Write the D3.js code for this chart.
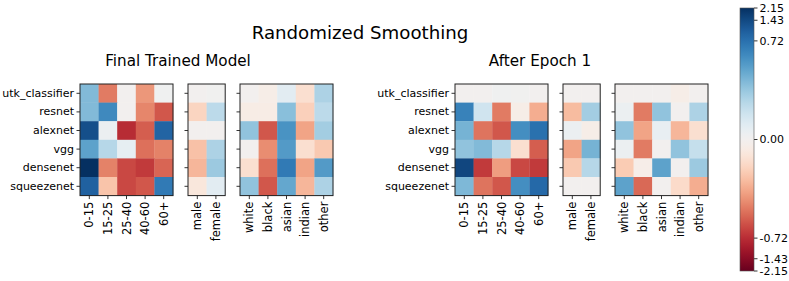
<!DOCTYPE html>
<html>
<head>
<meta charset="utf-8">
<script src="https://cdn.jsdelivr.net/npm/d3@7"></script>
<style>
  body { margin: 0; background: #fff; }
  svg { font-family: "DejaVu Sans", sans-serif; }
</style>
</head>
<body>
<svg id="chart" width="789" height="281"></svg>
<script>
// models on the y axis, groups along x
const models = ['utk_classifier', 'resnet', 'alexnet', 'vgg', 'densenet', 'squeezenet'];
const ageGroups = ['0-15', '15-25', '25-40', '40-60', '60+'];
const genders = ['male', 'female'];
const races = ['white', 'black', 'asian', 'indian', 'other'];
const cbTicks = [-2.15, -1.43, -0.72, 0.00, 0.72, 1.43, 2.15];

// Final trained model
const finalAge = [
  [0.42, -0.50, 0.00, -0.42, 0.02],
  [0.42, 0.62, 0.00, -0.47, -0.60],
  [1.30, 0.05, -0.74, -0.58, 0.90],
  [0.52, 0.27, 0.08, -0.53, -0.48],
  [2.15, -0.48, -0.64, -0.68, -0.56],
  [0.95, -0.27, -0.64, -0.60, 0.68]
];
const finalGender = [
  [0.00, 0.01],
  [-0.20, 0.25],
  [0.00, 0.00],
  [-0.28, 0.30],
  [-0.32, 0.35],
  [-0.10, 0.10]
];
const finalRace = [
  [0.00, -0.05, 0.10, -0.15, 0.30],
  [-0.06, -0.06, 0.40, -0.22, 0.25],
  [0.38, -0.60, 0.58, -0.38, 0.33],
  [0.00, -0.45, 0.55, -0.15, -0.25],
  [-0.15, -0.53, 0.68, -0.38, 0.55],
  [0.38, -0.60, 0.50, -0.32, 0.30]
];

// After epoch 1
const epochAge = [
  [0.00, 0.00, 0.02, 0.01, 0.00],
  [0.65, 0.18, -0.50, -0.05, -0.35],
  [0.45, -0.52, -0.60, 0.60, 0.72],
  [0.38, 0.42, 0.27, -0.15, -0.58],
  [1.50, -0.68, -0.40, -0.64, -0.68],
  [0.43, -0.52, -0.60, 0.60, 0.82]
];
const epochGender = [
  [0.00, 0.00],
  [-0.30, 0.33],
  [0.05, -0.05],
  [-0.38, 0.45],
  [-0.25, 0.27],
  [0.00, 0.00]
];
const epochRace = [
  [0.00, 0.00, 0.00, -0.05, 0.00],
  [0.05, -0.50, 0.38, 0.00, 0.30],
  [0.38, -0.38, 0.07, -0.32, -0.15],
  [0.05, -0.50, 0.00, 0.38, 0.22],
  [-0.24, -0.04, 0.52, 0.00, 0.35],
  [0.52, -0.55, 0.00, -0.17, -0.35]
];

// symmetric log norm (linear inside +-0.72)
const LIN = 0.72, VMAX = 2.15, LINSCALE = 1.425;
const symT = v => {
  const a = Math.abs(v);
  return a <= LIN ? v / LIN * LINSCALE : Math.sign(v) * (LINSCALE + Math.log10(a / LIN));
};
const norm = v => symT(v) / symT(VMAX);   // -1..1
const color = v => d3.interpolateRdBu(0.5 + 0.5 * norm(v));

const svg = d3.select('#chart');
const cell = 18.6;
const gridTop = 84;
const fontSize = 11;

const yBand = d3.scaleBand().domain(models).range([gridTop, gridTop + cell * models.length]);

function heatmap(x0, cols, data, showLabels) {
  const xBand = d3.scaleBand().domain(cols).range([x0, x0 + cell * cols.length]);
  const g = svg.append('g');
  data.forEach((row, i) => {
    row.forEach((v, j) => {
      g.append('rect')
        .attr('x', xBand(cols[j]))
        .attr('y', yBand(models[i]))
        .attr('width', xBand.bandwidth() + 0.3)
        .attr('height', yBand.bandwidth() + 0.3)
        .attr('fill', color(v));
    });
  });
  const yAxis = d3.axisLeft(yBand).tickSize(3.5).tickPadding(2.5);
  if (!showLabels) yAxis.tickFormat('');
  const ya = svg.append('g').attr('transform', `translate(${x0},0)`).call(yAxis);
  const xa = svg.append('g').attr('transform', `translate(0,${gridTop + cell * models.length})`)
    .call(d3.axisBottom(xBand).tickSize(3.5).tickPadding(2.5));
  [ya, xa].forEach(a => {
    a.select('.domain').remove();
    a.selectAll('line').attr('stroke', '#000').attr('stroke-width', 0.8);
    a.selectAll('text').attr('font-size', fontSize).attr('fill', '#000').attr('font-family', 'DejaVu Sans');
  });
  xa.selectAll('text')
    .attr('font-size', 11.5)
    .attr('transform', 'rotate(-90)')
    .attr('text-anchor', 'end')
    .attr('x', -6)
    .attr('y', 0)
    .attr('dy', '0.35em');
  svg.append('rect')
    .attr('x', x0).attr('y', gridTop)
    .attr('width', cell * cols.length).attr('height', cell * models.length)
    .attr('fill', 'none').attr('stroke', '#222').attr('stroke-width', 1);
}

function panel(x0, age, gender, race) {
  heatmap(x0, ageGroups, age, true);
  heatmap(x0 + 108, genders, gender, false);
  heatmap(x0 + 160, races, race, false);
}

panel(80, finalAge, finalGender, finalRace);
panel(455, epochAge, epochGender, epochRace);

svg.append('text').attr('x', 360).attr('y', 39).attr('text-anchor', 'middle')
  .attr('font-size', 18.2).text('Randomized Smoothing');
svg.append('text').attr('x', 178).attr('y', 66).attr('text-anchor', 'middle')
  .attr('font-size', 15.2).text('Final Trained Model');
svg.append('text').attr('x', 540).attr('y', 66).attr('text-anchor', 'middle')
  .attr('font-size', 15.2).text('After Epoch 1');

// colorbar
const cbX = 740, cbW = 14, cbTop = 8, cbBot = 271;
const cbScale = d3.scaleLinear().domain([-1, 1]).range([cbBot, cbTop]);
const defs = svg.append('defs');
const grad = defs.append('linearGradient').attr('id', 'cbgrad')
  .attr('x1', 0).attr('y1', 1).attr('x2', 0).attr('y2', 0);
d3.range(0, 1.0001, 0.02).forEach(t => {
  grad.append('stop').attr('offset', t).attr('stop-color', d3.interpolateRdBu(t));
});
svg.append('rect').attr('x', cbX).attr('y', cbTop).attr('width', cbW).attr('height', cbBot - cbTop)
  .attr('fill', 'url(#cbgrad)');
const cbAxis = svg.append('g').attr('transform', `translate(${cbX + cbW},0)`);
cbTicks.forEach(v => {
  const y = cbScale(norm(v));
  cbAxis.append('line').attr('x1', 0).attr('x2', 3.5).attr('y1', y).attr('y2', y)
    .attr('stroke', '#000').attr('stroke-width', 0.8);
  cbAxis.append('text').attr('x', 5.5).attr('y', y).attr('dy', '0.35em')
    .attr('font-size', fontSize).text(v.toFixed(2));
});
svg.append('rect').attr('x', cbX).attr('y', cbTop).attr('width', cbW).attr('height', cbBot - cbTop)
  .attr('fill', 'none').attr('stroke', '#555').attr('stroke-width', 0.6);
</script>
</body>
</html>
